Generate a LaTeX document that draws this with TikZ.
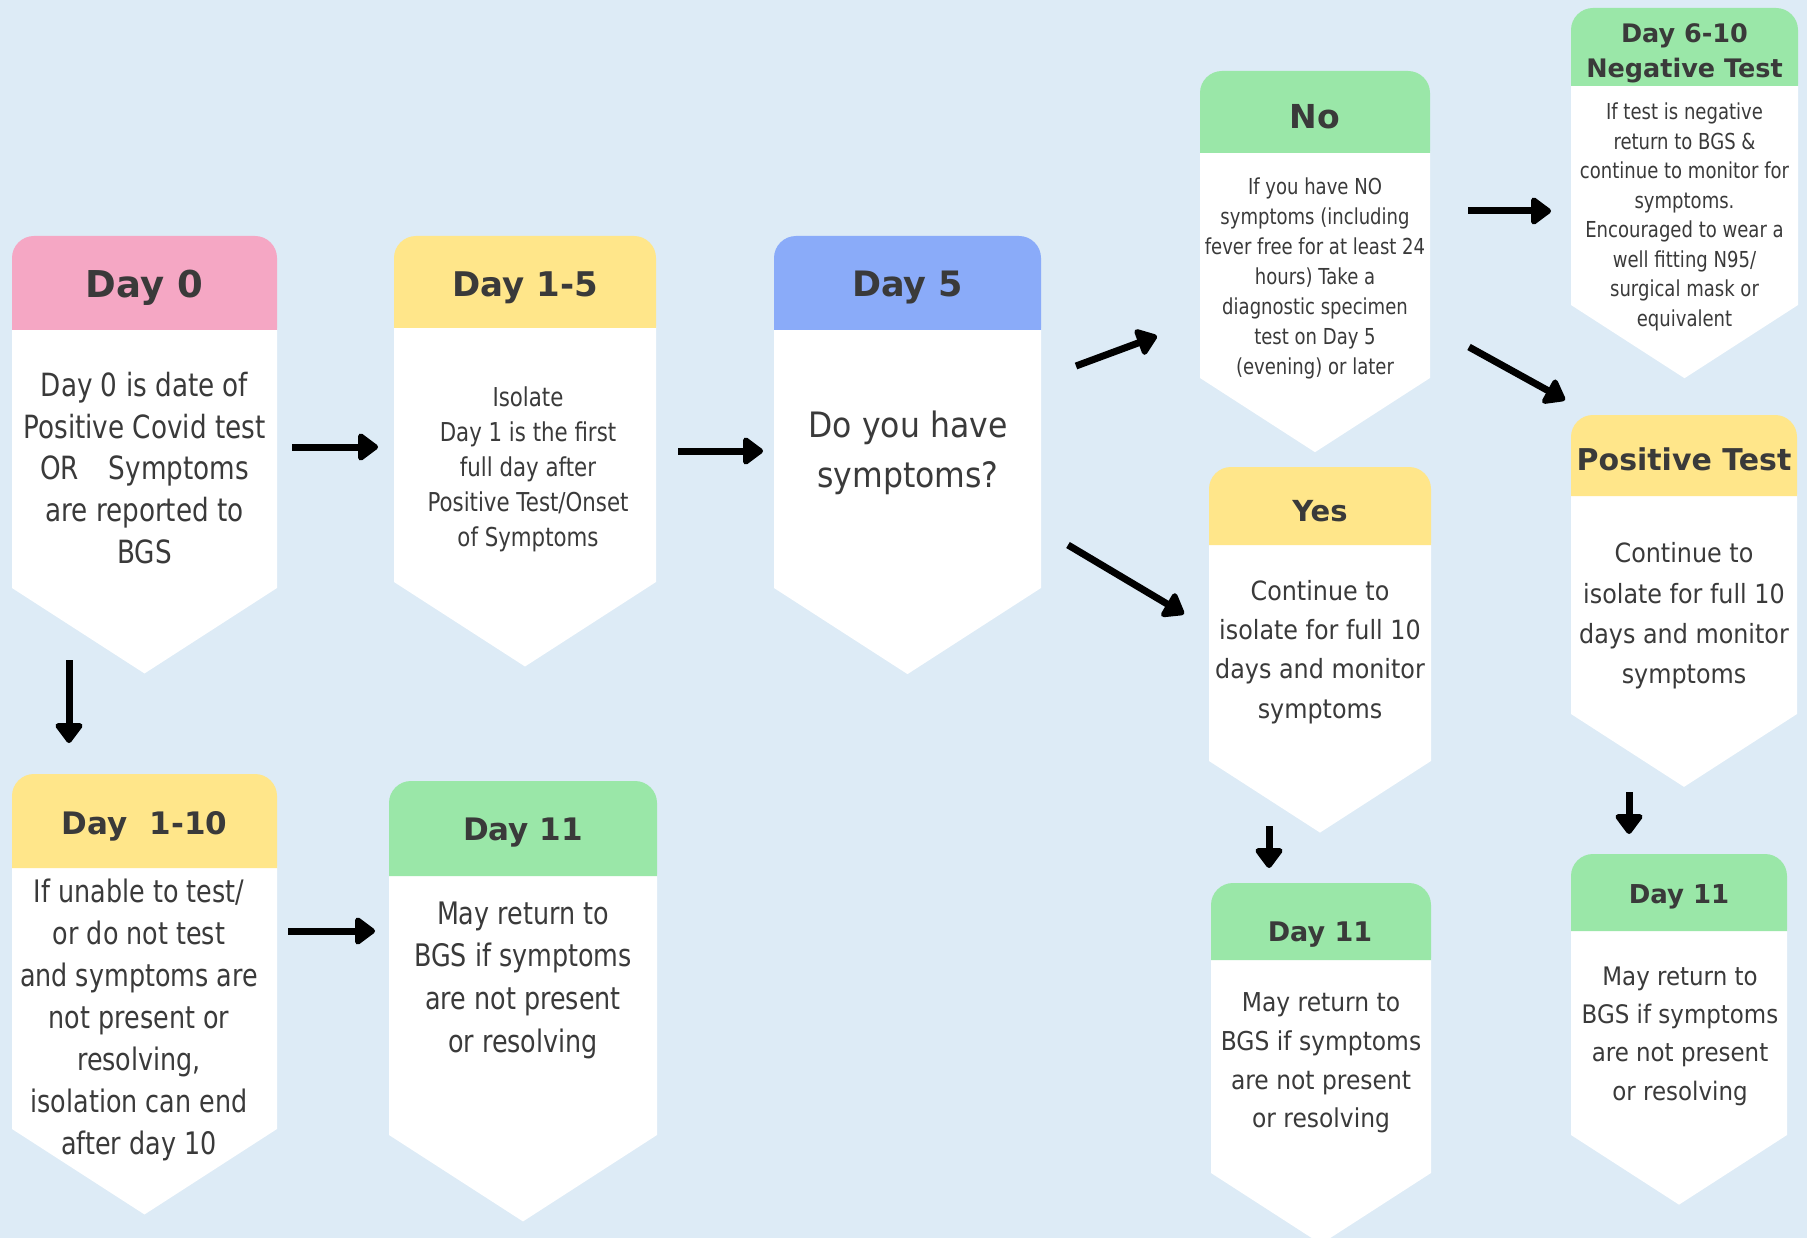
\documentclass[tikz,border=0pt]{standalone}
\usepackage{fontspec}
\setmainfont{DejaVu Sans}
\newfontfamily\condfont[FakeStretch=0.82]{DejaVu Sans}
\newfontfamily\tahfont[FakeStretch=0.9]{DejaVu Sans}
\usetikzlibrary{arrows.meta}
\definecolor{bgc}{HTML}{DDEBF6}
\definecolor{pinkh}{HTML}{F5A7C4}
\definecolor{yellowh}{HTML}{FFE68A}
\definecolor{blueh}{HTML}{8AABF9}
\definecolor{greenh}{HTML}{9AE7A8}
\definecolor{txtc}{HTML}{3A3A3A}
\newcommand\fsz[2]{\fontsize{#1}{#2}\selectfont}
% L, R, T, HB, SE, colour
\newcommand\boxshape[6]{%
  \fill[white] (#1,#4-2) -- (#1,#5) -- ({(#1+#2)/2},{#5+0.645*(#2-#1)/2}) -- (#2,#5) -- (#2,#4-2) -- cycle;
  \fill[#6] (#1,#4) [rounded corners=22pt] -- (#1,#3) -- (#2,#3) [sharp corners] -- (#2,#4) -- cycle;
}
\tikzset{
  hdr/.style={text=txtc, inner sep=0pt, align=center},
  bodytxt/.style={text=txtc, inner sep=0pt, align=center},
  arr/.style={line width=7pt, -{Triangle[length=22pt,width=31pt,round]}},
}
\begin{document}
\begin{tikzpicture}[x=1pt,y=-1pt]
\useasboundingbox (0,0) rectangle (1807,1238);
\fill[bgc] (0,0) rectangle (1807,1238);

% shapes
\boxshape{12}{277}{236}{330}{588}{pinkh}
\boxshape{394}{656}{236}{328}{582}{yellowh}
\boxshape{774}{1041}{236}{330}{588}{blueh}
\boxshape{1200}{1430}{71}{153}{378}{greenh}
\boxshape{1571}{1798}{8}{86}{305}{greenh}
\boxshape{1571}{1797}{415}{496}{714}{yellowh}
\boxshape{1209}{1431}{467}{545}{761}{yellowh}
\boxshape{1211}{1431}{883}{960}{1173}{greenh}
\boxshape{1571}{1787}{854}{931}{1135}{greenh}
\boxshape{12}{277}{774}{868}{1129}{yellowh}
\boxshape{389}{657}{781}{876}{1135}{greenh}

% headers
\node[hdr, font=\bfseries\fsz{37}{43}] (h0) at (144.5,288) {Day 0};
\node[hdr, font=\bfseries\fsz{34}{41}] (h15) at (525,288) {Day 1-5};
\node[hdr, font=\bfseries\fsz{35}{42}] (h5) at (907.5,288) {Day 5};
\node[hdr, font=\bfseries\fsz{33}{40}] (hno) at (1315,117) {No};
\node[hdr, font=\bfseries\fsz{25.5}{35}] (hneg) at (1684.5,53) {Day 6-10\\Negative Test};
\node[hdr, font=\bfseries\fsz{30}{35}] (hpos) at (1684,459) {Positive Test};
\node[hdr, font=\bfseries\fsz{29}{35}] (hyes) at (1320,511) {Yes};
\node[hdr, font=\bfseries\fsz{27}{33}] (hd11m) at (1320,935) {Day 11};
\node[hdr, font=\bfseries\fsz{26}{32}] (hd11r) at (1679,897) {Day 11};
\node[hdr, font=\bfseries\fsz{31}{38}] (h110) at (144.5,826) {Day\hspace{0.72em}1-10};
\node[hdr, font=\bfseries\fsz{31}{38}] (hd11l) at (523,833) {Day 11};

% bodies
\node[bodytxt, font=\condfont\fsz{32}{41.6}] (b0) at (144.5,468) {Day 0 is date of\\Positive Covid test\\OR\hspace{30pt}Symptoms\\are reported to\\BGS};
\node[bodytxt, font=\condfont\fsz{26}{35}] (b15) at (528,469) {Isolate\\Day 1 is the first\\full day after\\Positive Test/Onset\\of Symptoms};
\node[bodytxt, font=\tahfont\fsz{35}{50}] (b5) at (908,453) {Do you have\\symptoms?};
\node[bodytxt, font=\condfont\fsz{22}{30}] (bno) at (1315,278) {If you have NO\\symptoms (including\\fever free for at least 24\\hours) Take a\\diagnostic specimen\\test on Day 5\\(evening) or later};
\node[bodytxt, font=\condfont\fsz{22}{29.5}] (bneg) at (1684.5,217) {If test is negative\\return to BGS \&\\continue to monitor for\\symptoms.\\Encouraged to wear a\\well fitting N95/\\surgical mask or\\equivalent};
\node[bodytxt, font=\tahfont\fsz{26.5}{40.3}] (bpos) at (1684,616) {Continue to\\isolate for full 10\\days and monitor\\symptoms};
\node[bodytxt, font=\tahfont\fsz{26.5}{39.3}] (byes) at (1320,652) {Continue to\\isolate for full 10\\days and monitor\\symptoms};
\node[bodytxt, font=\tahfont\fsz{26}{38.7}] (bd11m) at (1321,1063) {May return to\\BGS if symptoms\\are not present\\or resolving};
\node[bodytxt, font=\tahfont\fsz{25.5}{38.3}] (bd11r) at (1680,1036) {May return to\\BGS if symptoms\\are not present\\or resolving};
\node[bodytxt, font=\condfont\fsz{31}{42}] (b110) at (139,1020) {If unable to test/\\or do not test\\and symptoms are\\not present or\\resolving,\\isolation can end\\after day 10};
\node[bodytxt, font=\condfont\fsz{31}{42.7}] (bd11l) at (523,980) {May return to\\BGS if symptoms\\are not present\\or resolving};

% connector ends
\coordinate (a1s) at (292,447);  \coordinate (a1e) at (378,447);
\coordinate (a2s) at (678,451);  \coordinate (a2e) at (763,451);
\coordinate (a3s) at (1076,366); \coordinate (a3e) at (1157,336);
\coordinate (a4s) at (1068,545); \coordinate (a4e) at (1184,614);
\coordinate (a5s) at (1468,211); \coordinate (a5e) at (1551,211);
\coordinate (a6s) at (1469,347); \coordinate (a6e) at (1565,400);
\coordinate (a7s) at (69,660);   \coordinate (a7e) at (69,743);
\coordinate (a8s) at (288,931);  \coordinate (a8e) at (375,931);
\coordinate (a9s) at (1269,826); \coordinate (a9e) at (1269,868);
\coordinate (a10s) at (1629,792); \coordinate (a10e) at (1629,834);

\draw[arr] (a1s) -- (a1e);
\draw[arr] (a2s) -- (a2e);
\draw[arr] (a3s) -- (a3e);
\draw[arr] (a4s) -- (a4e);
\draw[arr] (a5s) -- (a5e);
\draw[arr] (a6s) -- (a6e);
\draw[arr] (a7s) -- (a7e);
\draw[arr] (a8s) -- (a8e);
\draw[arr] (a9s) -- (a9e);
\draw[arr] (a10s) -- (a10e);
\end{tikzpicture}
\end{document}
